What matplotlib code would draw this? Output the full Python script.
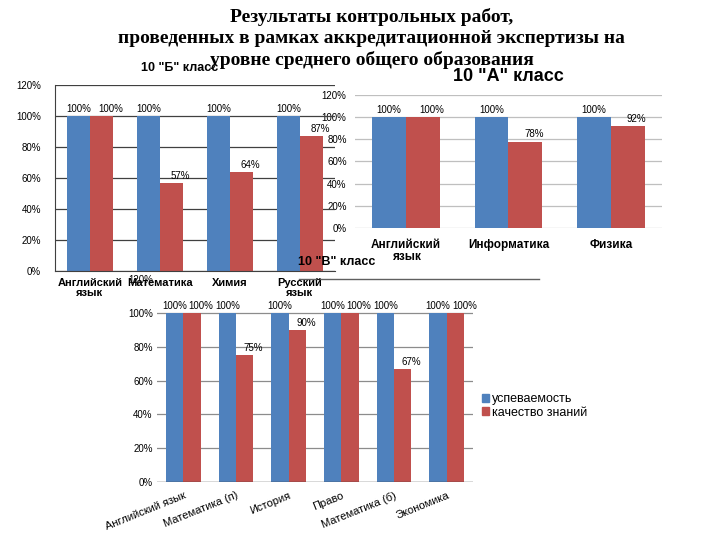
"""Collage of three grouped bar charts: test results by class."""

import matplotlib

matplotlib.use("Agg")

import matplotlib.pyplot as plt
from matplotlib.patches import Patch

BLUE = "#4f81bd"
RED = "#c0504d"

SERIES = ["успеваемость", "качество знаний"]

# 10 "Б" класс
B_SUBJECTS = ["Английский\nязык", "Математика", "Химия", "Русский\nязык"]
B_PERF = [1.00, 1.00, 1.00, 1.00]
B_QUAL = [1.00, 0.57, 0.64, 0.87]

# 10 "А" класс
A_SUBJECTS = ["Английский\nязык", "Информатика", "Физика"]
A_PERF = [1.00, 1.00, 1.00]
A_QUAL = [1.00, 0.78, 0.92]

# 10 "В" класс
V_SUBJECTS = ["Английский язык", "Математика (п)", "История", "Право",
              "Математика (б)", "Экономика"]
V_PERF = [1.00, 1.00, 1.00, 1.00, 1.00, 1.00]
V_QUAL = [1.00, 0.75, 0.90, 1.00, 0.67, 1.00]

PCT_TICKS = [0, 0.2, 0.4, 0.6, 0.8, 1.0, 1.2]

SANS = ["Liberation Sans", "DejaVu Sans"]
plt.rcParams["font.family"] = SANS


def pct(v):
    return f"{round(v * 100)}%"


def draw_bars(ax, perf, qual, width, label_size=7):
    xs = range(len(perf))
    blue = ax.bar([x - width / 2 for x in xs], perf, width, color=BLUE, zorder=2)
    red = ax.bar([x + width / 2 for x in xs], qual, width, color=RED, zorder=2)
    for bar, v in zip(blue, perf):
        ax.annotate(pct(v), (bar.get_x() + bar.get_width() / 2, v),
                    xytext=(0, 1.5), textcoords="offset points",
                    ha="center", va="bottom", fontsize=label_size)
    for bar, v in zip(red, qual):
        ax.annotate(pct(v), (bar.get_x() + bar.get_width() / 2, v),
                    xytext=(6.5, 1.5), textcoords="offset points",
                    ha="center", va="bottom", fontsize=label_size)
    return xs


def style_axes(ax, n, grid_color, tick_pad):
    ax.set_xlim(-0.5, n - 0.5)
    ax.set_ylim(0, 1.2)
    ax.set_yticks(PCT_TICKS)
    ax.set_yticklabels([pct(t) for t in PCT_TICKS])
    ax.tick_params(axis="y", length=0, labelsize=7, pad=tick_pad)
    ax.tick_params(axis="x", length=0)
    ax.grid(axis="y", color=grid_color, linewidth=0.9, zorder=0)
    ax.set_facecolor("none")
    for side in ["top", "right", "left", "bottom"]:
        ax.spines[side].set_visible(False)


fig = plt.figure(figsize=(7.2, 5.4), dpi=100)

# 10 "А" класс (drawn first, sits behind the others)
ax_a = fig.add_axes([0.493, 0.5778, 0.4264, 0.2463])
xs = draw_bars(ax_a, A_PERF, A_QUAL, 0.33)
style_axes(ax_a, len(A_SUBJECTS), "#bfbfbf", 6)
ax_a.set_xticks(list(xs))
ax_a.set_xticklabels(A_SUBJECTS, fontsize=8.5, fontweight="bold", linespacing=0.95)
ax_a.tick_params(axis="x", pad=8)
ax_a.set_title('10 "А" класс', fontsize=13, fontweight="bold", pad=10)

# 10 "В" класс
ax_v = fig.add_axes([0.218, 0.1074, 0.4389, 0.3759])
xs = draw_bars(ax_v, V_PERF, V_QUAL, 0.33)
style_axes(ax_v, len(V_SUBJECTS), "#8c8c8c", 3)
ax_v.grid(False)
for t in PCT_TICKS[1:-1]:
    ax_v.axhline(t, color="#8c8c8c", linewidth=0.9, zorder=0)
ax_v.axhline(0, color="#404040", linewidth=1.0, zorder=3)
ax_v.axhline(1.2, xmin=0.45, xmax=1.21, color="#606060", linewidth=1.0,
             clip_on=False, zorder=0)
ax_v.set_xticks(list(xs))
ax_v.set_xticklabels(V_SUBJECTS, fontsize=8, rotation=22, ha="right",
                     rotation_mode="anchor")
ax_v.tick_params(axis="x", pad=6)
fig.text(0.467, 0.515, '10 "В" класс', fontsize=9, fontweight="bold",
         ha="center", va="center")
fig.legend(handles=[Patch(color=BLUE), Patch(color=RED)], labels=SERIES,
           loc="center left", bbox_to_anchor=(0.662, 0.248), frameon=False,
           fontsize=9, handlelength=0.6, handleheight=0.6, handletextpad=0.2,
           labelspacing=0.1, borderaxespad=0)

# 10 "Б" класс
ax_b = fig.add_axes([0.0764, 0.4981, 0.3889, 0.3444])
xs = draw_bars(ax_b, B_PERF, B_QUAL, 0.33)
style_axes(ax_b, len(B_SUBJECTS), "#404040", 10)
ax_b.spines["left"].set_visible(True)
ax_b.spines["left"].set_color("#404040")
ax_b.spines["bottom"].set_visible(True)
ax_b.spines["bottom"].set_color("#404040")
ax_b.set_xticks(list(xs))
ax_b.set_xticklabels(B_SUBJECTS, fontsize=8, fontweight="bold", linespacing=0.95)
ax_b.tick_params(axis="x", pad=5)
fig.text(0.25, 0.874, '10 "Б" класс', fontsize=9, fontweight="bold",
         ha="center", va="center")

fig.text(0.516, 0.986,
         "Результаты контрольных работ,\n"
         "проведенных в рамках аккредитационной экспертизы на\n"
         "уровне среднего общего образования",
         fontsize=14, fontweight="bold", family=["Liberation Serif", "DejaVu Serif"],
         ha="center", va="top", linespacing=1.32)

fig.savefig("out.png", dpi=100)
